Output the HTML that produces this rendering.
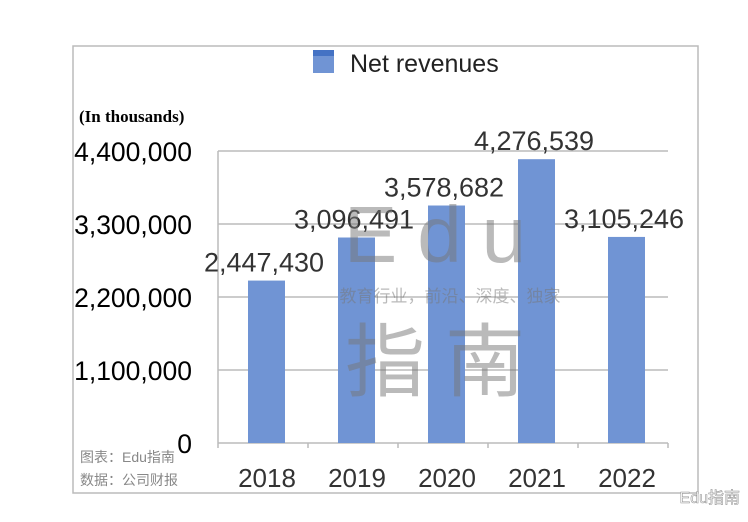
<!DOCTYPE html>
<html><head><meta charset="utf-8"><style>
body{margin:0;background:#fff;width:748px;height:522px;overflow:hidden}
svg{display:block}
</style></head><body>
<svg id="c" width="748" height="522" xmlns="http://www.w3.org/2000/svg">
<rect x="73" y="46" width="625" height="447" fill="#fff" stroke="#bbb" stroke-width="1.5"/>
<g>
<rect x="313" y="50" width="21" height="23" fill="#7094d4"/>
<rect x="313" y="50" width="21" height="6" fill="#4472c4"/>
<text x="350" y="72" font-family="Liberation Sans, sans-serif" font-size="25" fill="#222">Net revenues</text>
</g>
<text x="79" y="122" font-family="Liberation Serif, serif" font-weight="bold" font-size="17" fill="#000">(In thousands)</text>
<g id="grid"></g><g id="bars"></g><g id="labels"></g>
<g font-family="Liberation Sans, 'Noto Sans CJK SC', sans-serif" fill="#777" opacity="0.5">
<text x="445" y="262" font-size="80" text-anchor="middle" letter-spacing="20">Edu</text>
<text x="450" y="302" font-size="17" text-anchor="middle">教育行业，前沿、深度、独家</text>
<text x="445" y="390" font-size="80" text-anchor="middle" letter-spacing="20">指南</text>
</g>
<text x="80" y="462" font-family="Liberation Sans, 'Noto Sans CJK SC', sans-serif" font-size="14" fill="#888">图表：Edu指南</text>
<text x="80" y="485" font-family="Liberation Sans, 'Noto Sans CJK SC', sans-serif" font-size="14" fill="#888">数据：公司财报</text>
<text x="740" y="503" text-anchor="end" font-family="Liberation Sans, 'Noto Sans CJK SC', sans-serif" font-size="16" fill="#fff" stroke="#999" stroke-width="0.6">Edu指南</text>
</svg>
<script>
const categories=["2018","2019","2020","2021","2022"];
const revenues=[2447430,3096491,3578682,4276539,3105246];
const valueLabels=["2,447,430","3,096,491","3,578,682","4,276,539","3,105,246"];
const yTicks=[0,1100000,2200000,3300000,4400000];
const yTickLabels=["0","1,100,000","2,200,000","3,300,000","4,400,000"];
const NS="http://www.w3.org/2000/svg";
const x0=218,band=90,y0=443,yMax=4400000,yTop=151;
const y=v=>y0-(v/yMax)*(y0-yTop);
const xb=i=>x0+i*band;
function mk(t,a,p,txt){const e=document.createElementNS(NS,t);for(const k in a)e.setAttribute(k,a[k]);if(txt!=null)e.textContent=txt;p.appendChild(e);return e;}
const grid=document.getElementById('grid'),bars=document.getElementById('bars'),labels=document.getElementById('labels');
yTicks.forEach((v,i)=>{
 if(v>0){const g=mk('line',{x1:x0,x2:x0+band*5,y1:y(v),y2:y(v),stroke:'#bbb','stroke-width':1.5},grid);
 
 }
 const t=mk('text',{x:192,y:y(v)+10,'text-anchor':'end','font-family':'Liberation Sans, sans-serif','font-size':26.5,fill:'#000'},labels,yTickLabels[i]);
 
 
});
const ax=mk('line',{x1:x0,x2:x0+band*5,y1:y0,y2:y0,stroke:'#bbb','stroke-width':1.5},grid);


const yl=mk('line',{x1:x0,x2:x0,y1:yTop,y2:y0,stroke:'#bbb','stroke-width':1.5},grid);


for(let i=0;i<=5;i++){const tk=mk('line',{x1:xb(i),x2:xb(i),y1:y0,y2:y0+5,stroke:'#bbb','stroke-width':1.5},grid);

}
categories.forEach((c,i)=>{
 const cx=xb(i)+band/2+3;
 const b=mk('rect',{x:cx-18,y:y(revenues[i]),width:37,height:y0-y(revenues[i]),fill:'#7094d4'},bars);
 
 
 const l=mk('text',{x:cx-2,y:y(revenues[i])-9,'text-anchor':'middle','font-family':'Liberation Sans, sans-serif','font-size':27,fill:'#333'},labels,valueLabels[i]);
 
 
 const xl=mk('text',{x:cx+1,y:487,'text-anchor':'middle','font-family':'Liberation Sans, sans-serif','font-size':26,fill:'#333'},labels,c);
 
 
});
</script>
</body></html>
